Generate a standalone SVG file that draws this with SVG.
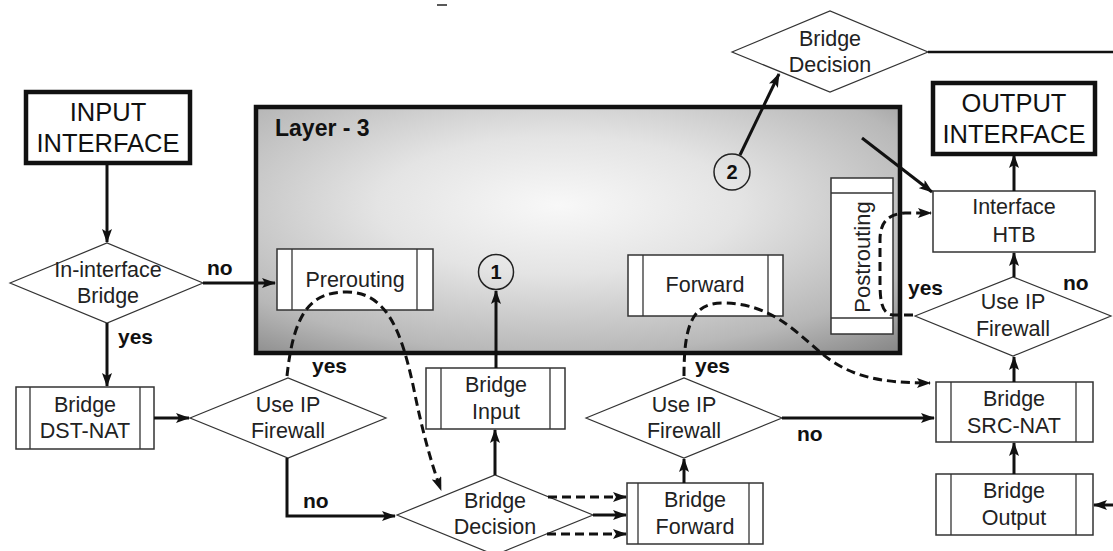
<svg xmlns="http://www.w3.org/2000/svg" width="1113" height="551" viewBox="0 0 1113 551">
<defs>
  <radialGradient id="l3grad" cx="0.47" cy="0.4" r="0.8">
    <stop offset="0" stop-color="#f8f8f8"/>
    <stop offset="0.35" stop-color="#e4e4e4"/>
    <stop offset="0.75" stop-color="#b8b8b8"/>
    <stop offset="1" stop-color="#858585"/>
  </radialGradient>
  <marker id="arr" viewBox="0 0 14 10" refX="13" refY="5" markerWidth="14" markerHeight="10" markerUnits="userSpaceOnUse" orient="auto">
    <path d="M0,0 L14,5 L0,10 L3,5 z" fill="#111"/>
  </marker>
</defs>
<style>
  .t { font-family: "Liberation Sans", Arial, sans-serif; font-size: 21.5px; fill: #222; text-anchor: middle; }
  .big { font-family: "Liberation Sans", Arial, sans-serif; font-size: 25.5px; fill: #111; text-anchor: middle; }
  .lbl { font-family: "Liberation Sans", Arial, sans-serif; font-size: 21px; font-weight: bold; fill: #111; }
  .num { font-family: "Liberation Sans", Arial, sans-serif; font-size: 20px; font-weight: bold; fill: #111; text-anchor: middle; }
  .box { fill: #fff; stroke: #333; stroke-width: 1.5; }
  .thick { fill: #fff; stroke: #111; stroke-width: 4.5; }
  .dia { fill: #fff; stroke: #333; stroke-width: 1.2; }
  .in { stroke: #333; stroke-width: 1.3; fill: none; }
  .c { fill: none; stroke: #111; stroke-width: 3; }
  .d { fill: none; stroke: #111; stroke-width: 3; stroke-dasharray: 9 5; }
</style>

<line x1="437" y1="5" x2="447" y2="5" stroke="#222" stroke-width="1.5"/>

<g id="layer3">
  <rect x="256" y="107" width="644" height="246" fill="url(#l3grad)" stroke="#111" stroke-width="4.5"/>
  <text x="275" y="136" class="lbl" style="font-size:23px">Layer - 3</text>
</g>

<g id="input-interface">
  <rect x="26" y="92" width="164" height="71" class="thick"/>
  <text x="108" y="121" class="big">INPUT</text>
  <text x="108" y="152" class="big">INTERFACE</text>
</g>

<g id="in-interface-bridge">
  <polygon points="10,283 107,243 203,283 107,323" class="dia"/>
  <text x="108" y="277" class="t">In-interface</text>
  <text x="108" y="303" class="t">Bridge</text>
</g>

<g id="prerouting">
  <rect x="277" y="249" width="156" height="61" class="box"/>
  <line x1="292" y1="249" x2="292" y2="310" class="in"/>
  <line x1="417" y1="249" x2="417" y2="310" class="in"/>
  <text x="355" y="287" class="t">Prerouting</text>
</g>

<g id="circle1">
  <circle cx="496" cy="272" r="17.5" fill="none" stroke="#222" stroke-width="1.5"/>
  <text x="496" y="279" class="num">1</text>
</g>

<g id="forward">
  <rect x="628" y="255" width="155" height="61" class="box"/>
  <line x1="643" y1="255" x2="643" y2="316" class="in"/>
  <line x1="768" y1="255" x2="768" y2="316" class="in"/>
  <text x="705" y="292" class="t">Forward</text>
</g>

<g id="postrouting">
  <rect x="831" y="178" width="62" height="156" class="box"/>
  <line x1="831" y1="193" x2="893" y2="193" class="in"/>
  <line x1="831" y1="318" x2="893" y2="318" class="in"/>
  <text transform="translate(870,257) rotate(-90)" x="0" y="0" class="t" style="font-size:22px">Postrouting</text>
</g>

<g id="circle2">
  <circle cx="732" cy="172" r="18" fill="none" stroke="#222" stroke-width="1.5"/>
  <text x="732" y="179" class="num">2</text>
</g>

<g id="bridge-decision-top">
  <polygon points="732,52 830,11 928,52 830,92" class="dia"/>
  <text x="830" y="46" class="t">Bridge</text>
  <text x="830" y="72" class="t">Decision</text>
</g>

<g id="output-interface">
  <rect x="933" y="83" width="162" height="71" class="thick"/>
  <text x="1014" y="112" class="big">OUTPUT</text>
  <text x="1014" y="143" class="big">INTERFACE</text>
</g>

<g id="interface-htb">
  <rect x="933" y="191" width="162" height="61" class="box"/>
  <text x="1014" y="214" class="t">Interface</text>
  <text x="1014" y="242" class="t">HTB</text>
</g>

<g id="use-ip-firewall-right">
  <polygon points="915,316 1013,277 1111,316 1013,356" class="dia"/>
  <text x="1013" y="309" class="t">Use IP</text>
  <text x="1013" y="336" class="t">Firewall</text>
</g>

<g id="bridge-dst-nat">
  <rect x="16" y="387" width="138" height="62" class="box"/>
  <line x1="30" y1="387" x2="30" y2="449" class="in"/>
  <line x1="140" y1="387" x2="140" y2="449" class="in"/>
  <text x="85" y="412" class="t">Bridge</text>
  <text x="85" y="438" class="t">DST-NAT</text>
</g>

<g id="use-ip-firewall-left">
  <polygon points="190,418 288,378 386,418 288,458" class="dia"/>
  <text x="288" y="412" class="t">Use IP</text>
  <text x="288" y="438" class="t">Firewall</text>
</g>

<g id="bridge-input">
  <rect x="426" y="368" width="139" height="61" class="box"/>
  <line x1="441" y1="368" x2="441" y2="429" class="in"/>
  <line x1="550" y1="368" x2="550" y2="429" class="in"/>
  <text x="496" y="392" class="t">Bridge</text>
  <text x="496" y="419" class="t">Input</text>
</g>

<g id="bridge-decision-bottom">
  <polygon points="397,515 495,475 593,515 495,555" class="dia"/>
  <text x="495" y="508" class="t">Bridge</text>
  <text x="495" y="534" class="t">Decision</text>
</g>

<g id="use-ip-firewall-mid">
  <polygon points="586,418 684,378 782,418 684,458" class="dia"/>
  <text x="684" y="412" class="t">Use IP</text>
  <text x="684" y="438" class="t">Firewall</text>
</g>

<g id="bridge-forward">
  <rect x="627" y="483" width="136" height="61" class="box"/>
  <line x1="638" y1="483" x2="638" y2="544" class="in"/>
  <line x1="749" y1="483" x2="749" y2="544" class="in"/>
  <text x="695" y="507" class="t">Bridge</text>
  <text x="695" y="534" class="t">Forward</text>
</g>

<g id="bridge-src-nat">
  <rect x="936" y="382" width="157" height="60" class="box"/>
  <line x1="951" y1="382" x2="951" y2="442" class="in"/>
  <line x1="1076" y1="382" x2="1076" y2="442" class="in"/>
  <text x="1014" y="406" class="t">Bridge</text>
  <text x="1014" y="433" class="t">SRC-NAT</text>
</g>

<g id="bridge-output">
  <rect x="936" y="474" width="157" height="61" class="box"/>
  <line x1="951" y1="474" x2="951" y2="535" class="in"/>
  <line x1="1076" y1="474" x2="1076" y2="535" class="in"/>
  <text x="1014" y="498" class="t">Bridge</text>
  <text x="1014" y="525" class="t">Output</text>
</g>

<g id="connectors">
  <line x1="107" y1="163" x2="107" y2="242" class="c" marker-end="url(#arr)"/>
  <line x1="203" y1="283" x2="275" y2="283" class="c" marker-end="url(#arr)"/>
  <line x1="107" y1="323" x2="107" y2="386" class="c" marker-end="url(#arr)"/>
  <line x1="154" y1="418" x2="189" y2="418" class="c" marker-end="url(#arr)"/>
  <polyline points="287,458 287,516 395,516" class="c" marker-end="url(#arr)"/>
  <line x1="495" y1="475" x2="495" y2="430" class="c" marker-end="url(#arr)"/>
  <line x1="496" y1="368" x2="496" y2="291" class="c" marker-end="url(#arr)"/>
  <line x1="593" y1="515" x2="626" y2="515" class="c" marker-end="url(#arr)"/>
  <line x1="548" y1="497" x2="626" y2="497" class="d" marker-end="url(#arr)"/>
  <line x1="547" y1="534" x2="626" y2="534" class="d" marker-end="url(#arr)"/>
  <line x1="684" y1="483" x2="684" y2="459" class="c" marker-end="url(#arr)"/>
  <line x1="782" y1="418" x2="934" y2="418" class="c" marker-end="url(#arr)"/>
  <line x1="1014" y1="474" x2="1014" y2="443" class="c" marker-end="url(#arr)"/>
  <line x1="1113" y1="505" x2="1094" y2="505" class="c" marker-end="url(#arr)"/>
  <line x1="1014" y1="382" x2="1014" y2="357" class="c" marker-end="url(#arr)"/>
  <line x1="1014" y1="277" x2="1014" y2="253" class="c" marker-end="url(#arr)"/>
  <line x1="1014" y1="191" x2="1014" y2="155" class="c" marker-end="url(#arr)"/>
  <line x1="862" y1="138" x2="932" y2="192" class="c" marker-end="url(#arr)"/>
  <line x1="740" y1="155" x2="779" y2="74" class="c" marker-end="url(#arr)"/>
  <line x1="928" y1="52" x2="1113" y2="52" stroke="#111" stroke-width="2.5"/>
  <path d="M287,376 C294,310 312,292 347,292 C388,292 402,335 413,385 C421,425 430,460 441,490" class="d" marker-end="url(#arr)"/>
  <path d="M684,376 C684,330 690,303 722,303 C768,303 792,328 820,352 C848,376 878,383 930,383" class="d" marker-end="url(#arr)"/>
  <path d="M913,315 L893,315 C882,314 880,302 880,282 L880,240 C880,222 888,214 905,213 L931,213" class="d" marker-end="url(#arr)"/>
  <text x="207" y="275" class="lbl">no</text>
  <text x="118" y="344" class="lbl">yes</text>
  <text x="312" y="373" class="lbl">yes</text>
  <text x="303" y="508" class="lbl">no</text>
  <text x="695" y="373" class="lbl">yes</text>
  <text x="797" y="441" class="lbl">no</text>
  <text x="908" y="295" class="lbl">yes</text>
  <text x="1063" y="290" class="lbl">no</text>
</g>
</svg>
